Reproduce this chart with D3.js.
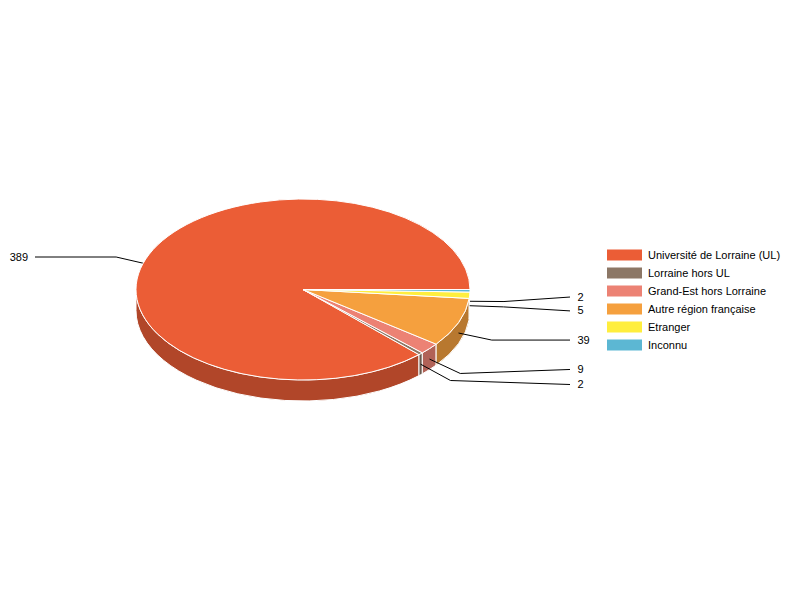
<!DOCTYPE html>
<html>
<head>
<meta charset="utf-8">
<script src="https://cdn.jsdelivr.net/npm/d3@7"></script>
<style>
    html, body { margin: 0; background: #fff; }
    text { font-family: "Liberation Sans", Arial, sans-serif; font-size: 11px; fill: #000; }
</style>
</head>
<body>
<svg id="vis" width="800" height="600"></svg>
<script>
// Chart data, in legend order
var categories = ["Université de Lorraine (UL)", "Lorraine hors UL", "Grand-Est hors Lorraine",
    "Autre région française", "Etranger", "Inconnu"];
var values = [389, 2, 9, 39, 5, 2];
var colors = ["#eb5d36", "#8c7766", "#ec8274", "#f5a03e", "#ffee3e", "#5cb7d3"];

var vis = d3.select("#vis");

// pie geometry
var cx = 303, cy = 289.5, rx = 167, ry = 90.5, depth = 21;
var tick = 34;

// labels that sit too close are pushed apart
var labelNudge = [0, 4, -4, 0, 4, -4.5];

// d3.pie goes clockwise from north: run it backwards from east, then turn into
// an angle measured clockwise from east so it can go on the ellipse directly
var arcs = d3.pie().sort(null).startAngle(Math.PI / 2).endAngle(Math.PI / 2 - 2 * Math.PI)(values)
    .map((d, i) => ({
        i: i,
        value: d.value,
        a0: d.endAngle - Math.PI / 2,
        a1: d.startAngle - Math.PI / 2
    }));

function px(t) { return cx + rx * Math.cos(t); }
function py(t) { return cy + ry * Math.sin(t); }

function topPath(d) {
    var large = d.a1 - d.a0 > Math.PI ? 1 : 0;
    return `M${cx} ${cy}L${px(d.a0)} ${py(d.a0)}A${rx} ${ry} 0 ${large} 1 ${px(d.a1)} ${py(d.a1)}Z`;
}

// wall: only the part of the rim facing us (0..PI, also PI*2..PI*3 for negative angles)
function wallPath(d) {
    var paths = [];
    for (var k of [-2, 0]) {
        var t0 = Math.max(d.a0, k * Math.PI), t1 = Math.min(d.a1, k * Math.PI + Math.PI);
        if (t1 <= t0) continue;
        paths.push(`M${px(t0)} ${py(t0)}A${rx} ${ry} 0 0 1 ${px(t1)} ${py(t1)}` +
            `L${px(t1)} ${py(t1) + depth}A${rx} ${ry} 0 0 0 ${px(t0)} ${py(t0) + depth}Z`);
    }
    return paths.join("");
}

// walls
vis.append("g").selectAll("path").data(arcs).join("path")
    .attr("d", wallPath)
    .attr("fill", d => d3.color(colors[d.i]).darker(0.8))
    .attr("stroke", "#fff")
    .attr("stroke-width", 1);

// leader lines, under the top face
function leader(d) {
    var t = (d.a0 + d.a1) / 2;
    var x0 = px(t), y0 = py(t) + depth / 2;
    var dx = rx * Math.cos(t), dy = ry * Math.sin(t), len = Math.hypot(dx, dy);
    var x1 = x0 + dx / len * tick, y1 = y0 + dy / len * tick;
    var right = dx > 0;
    return { x0, y0, x1, y1, right, x2: right ? 570 : 35, y2: y1 + labelNudge[d.i] };
}

vis.append("g").selectAll("path").data(arcs).join("path")
    .attr("fill", "none")
    .attr("stroke", "#000")
    .attr("d", d => {
        var l = leader(d);
        return `M${l.x0} ${l.y0}L${l.x1} ${l.y1}L${l.x2} ${l.y2}`;
    });

// top faces
vis.append("g").selectAll("path").data(arcs).join("path")
    .attr("d", topPath)
    .attr("fill", d => colors[d.i])
    .attr("stroke", "#fff")
    .attr("stroke-width", 1);

// value labels
vis.append("g").selectAll("text").data(arcs).join("text")
    .attr("x", d => leader(d).right ? 577.5 : 28)
    .attr("y", d => leader(d).y2 + 3.5)
    .attr("text-anchor", d => leader(d).right ? "start" : "end")
    .text(d => d.value);

// legend
var legendY = d3.scaleBand().domain(categories).range([246.5, 354.5]);

var legend = vis.append("g").selectAll("g").data(categories).join("g")
    .attr("transform", d => `translate(0 ${legendY(d)})`);

legend.append("rect")
    .attr("x", 607)
    .attr("y", 3)
    .attr("width", 35)
    .attr("height", 11)
    .attr("fill", (d, i) => colors[i]);

legend.append("text")
    .attr("x", 648)
    .attr("y", 12)
    .text(d => d);
</script>
</body>
</html>
